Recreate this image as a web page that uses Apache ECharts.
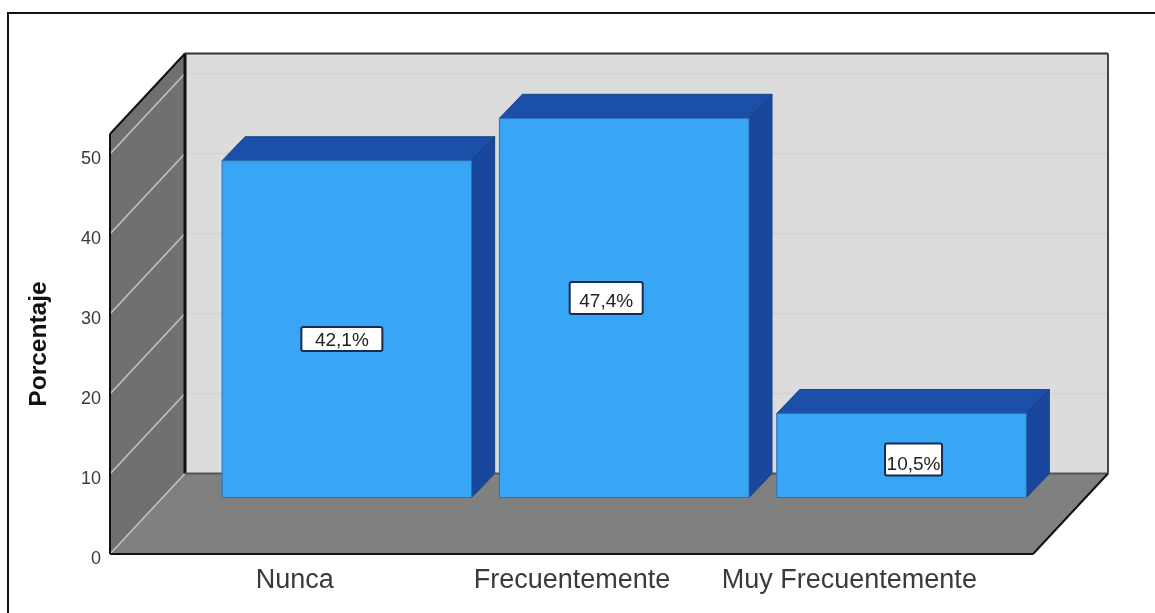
<!DOCTYPE html>
<html>
<head>
<meta charset="utf-8">
<style>
  html, body { margin: 0; padding: 0; background: #fff; }
  #main { width: 1155px; height: 613px; }
</style>
<script src="https://cdn.jsdelivr.net/npm/echarts@6/dist/echarts.min.js"></script>
</head>
<body>
<div id="main"></div>
<script>
var categorias = ['Nunca', 'Frecuentemente', 'Muy Frecuentemente'];
var porcentajes = [42.1, 47.4, 10.5];
var etiquetas = ['42,1%', '47,4%', '10,5%'];
var marcasY = [0, 10, 20, 30, 40, 50];

// tope del eje: la pared llega un poco por encima de 50
var maxY = 52.5;
// profundidad del suelo y de las barras, en px
var fondoX = 75, fondoY = 80.5;
var frenteX = 52.2, frenteY = 56.5;
var barraX = 23, barraY = 24;
// las cajas de texto no estan centradas en la barra: [dx, dy, ancho, alto, dy del texto]
var cajas = [[-5, 10, 81, 24, 2], [-18, -10, 73, 32, 3.5], [12, 4, 57, 32, 5]];

var myChart = echarts.init(document.getElementById('main'), null, { renderer: 'canvas' });

function poly(points, fill, stroke, lw) {
  return {
    type: 'polygon',
    shape: { points: points },
    style: { fill: fill, stroke: stroke || null, lineWidth: lw || 0 }
  };
}
function line(p1, p2, color, lw) {
  return {
    type: 'line',
    shape: { x1: p1[0], y1: p1[1], x2: p2[0], y2: p2[1] },
    style: { stroke: color, lineWidth: lw }
  };
}

function dibujaFondo(params, api) {
  var y0 = api.coord([0, 0])[1];
  var yTop = api.coord([0, maxY])[1];
  var xL = params.coordSys.x - 46;
  var xR = params.coordSys.x + params.coordSys.width + 45;
  var kids = [];
  // pared de atras, pared lateral, suelo
  kids.push(poly([[xL + fondoX, yTop - fondoY], [xR + fondoX, yTop - fondoY], [xR + fondoX, y0 - fondoY], [xL + fondoX, y0 - fondoY]], '#dcdcdc'));
  kids.push(poly([[xL, yTop], [xL + fondoX, yTop - fondoY], [xL + fondoX, y0 - fondoY], [xL, y0]], '#707070'));
  kids.push(poly([[xL, y0], [xL + fondoX, y0 - fondoY], [xR + fondoX, y0 - fondoY], [xR, y0]], '#808080'));
  marcasY.forEach(function (v) {
    var y = api.coord([0, v])[1];
    if (v > 0) {
      kids.push(line([xL + fondoX, y - fondoY], [xR + fondoX, y - fondoY], '#d2d2d2', 1.5));
    }
    kids.push(line([xL, y], [xL + fondoX, y - fondoY], '#c4c4c4', 1.5));
  });
  // bordes
  kids.push(line([xL, yTop], [xL + fondoX, yTop - fondoY], '#111', 2));
  kids.push(line([xL + fondoX, yTop - fondoY], [xL + fondoX, y0 - fondoY], '#111', 3));
  kids.push(line([xL + fondoX, yTop - fondoY], [xR + fondoX, yTop - fondoY], '#333', 2));
  kids.push(line([xR + fondoX, yTop - fondoY], [xR + fondoX, y0 - fondoY], '#444', 2));
  kids.push(line([xL + fondoX, y0 - fondoY], [xR + fondoX, y0 - fondoY], '#555', 2));
  kids.push(line([xL, yTop], [xL, y0], '#111', 2));
  kids.push(line([xL, y0], [xR, y0], '#111', 2));
  kids.push(line([xR, y0], [xR + fondoX, y0 - fondoY], '#111', 2));
  return { type: 'group', children: kids };
}

function dibujaBarra(params, api) {
  var i = api.value(0);
  var c = api.coord([i, api.value(1)]);
  var b = api.coord([i, 0]);
  var w = api.size([1, 0])[0] * 0.9;
  var x0 = c[0] + frenteX - w / 2, x1 = x0 + w;
  var yT = c[1] - frenteY, yB = b[1] - frenteY;
  var caja = cajas[i];
  var cx = (x0 + x1) / 2 + caja[0], cy = (yT + yB) / 2 + caja[1];
  return {
    type: 'group',
    children: [
      poly([[x0, yT], [x0 + barraX, yT - barraY], [x1 + barraX, yT - barraY], [x1, yT]], '#1c4fa8', '#1a4590', 1),
      poly([[x1, yT], [x1 + barraX, yT - barraY], [x1 + barraX, yB - barraY], [x1, yB]], '#18479c', '#1a3f80', 1),
      poly([[x0, yT], [x1, yT], [x1, yB], [x0, yB]], '#38a6f5', '#2a6fb8', 1),
      {
        type: 'rect',
        shape: { x: cx - caja[2] / 2, y: cy - caja[3] / 2, width: caja[2], height: caja[3], r: 2 },
        style: { fill: '#fff', stroke: '#1a2a50', lineWidth: 2 }
      },
      {
        type: 'text',
        style: {
          x: cx, y: cy + caja[4], text: etiquetas[i], align: 'center', verticalAlign: 'middle',
          font: '19px "Liberation Sans", Arial, sans-serif', fill: '#222'
        }
      }
    ]
  };
}

var option = {
  animation: false,
  backgroundColor: '#fff',
  grid: { left: 156, right: 167, top: 134, bottom: 59, containLabel: false },
  graphic: [{
    type: 'polyline',
    shape: { points: [[8, 613], [8, 13], [1155, 13]] },
    style: { stroke: '#111', lineWidth: 2, fill: null }
  }],
  xAxis: {
    type: 'category',
    data: categorias,
    axisLine: { show: false },
    axisTick: { show: false },
    axisLabel: { color: '#3a3a3a', fontSize: 27, fontFamily: '"Liberation Sans", Arial, sans-serif', margin: 13, interval: 0 }
  },
  yAxis: {
    type: 'value',
    min: 0,
    max: maxY,
    interval: 10,
    offset: 46,
    name: 'Porcentaje',
    nameLocation: 'middle',
    nameGap: 58,
    nameTextStyle: { color: '#111', fontSize: 24.5, fontWeight: 'bold', fontFamily: '"Liberation Sans", Arial, sans-serif' },
    axisLine: { show: false },
    axisTick: { show: false },
    splitLine: { show: false },
    axisLabel: {
      showMaxLabel: false, margin: 9,
      formatter: '{t|{value}}',
      rich: {
        t: {
          color: '#3a3a3a', fontSize: 18, padding: [11, 0, 0, 0],
          fontFamily: '"Liberation Sans", Arial, sans-serif'
        }
      }
    }
  },
  series: [
    { type: 'custom', clip: false, z: 1, silent: true, renderItem: dibujaFondo, data: [[0, 0]] },
    {
      type: 'custom', clip: false, z: 2, renderItem: dibujaBarra,
      encode: { x: 0, y: 1 },
      data: porcentajes.map(function (v, i) { return [i, v]; })
    }
  ]
};

myChart.setOption(option);
window.addEventListener('resize', function () { myChart.resize(); }, false);
</script>
</body>
</html>
